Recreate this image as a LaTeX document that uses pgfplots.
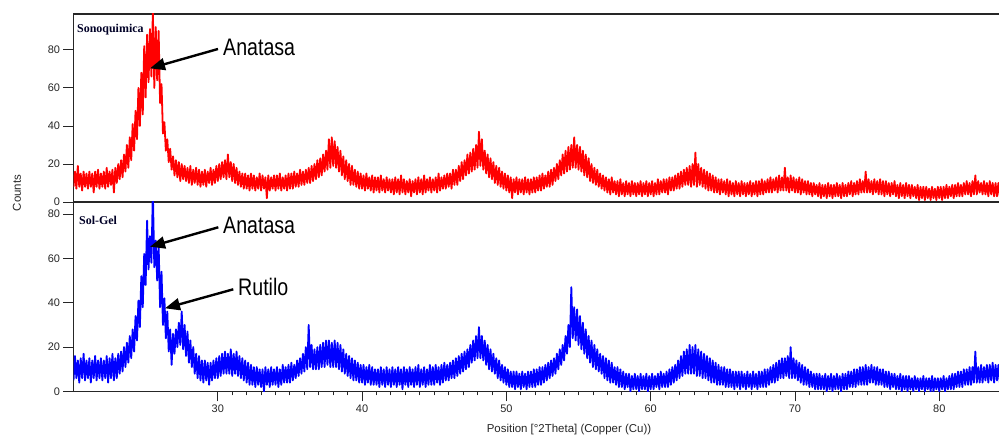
\documentclass[border=0pt]{standalone}
\usepackage{pgfplots}
\pgfplotsset{compat=1.18}
\usetikzlibrary{arrows.meta}
\usepackage{fontspec}
\setmainfont{Liberation Sans}
\newfontfamily\panelfont{Liberation Serif}

\pgfplotsset{
  xrd/.style={
    scale only axis,
    width=927.8bp,
    xmin=20, xmax=84.3,
    ymin=0,
    ytick={0,20,40,60,80},
    ytick pos=left,
    tick align=outside,
    major tick length=10bp,
    minor tick length=4bp,
    axis line style={line width=1.2bp, black!85},
    every tick/.style={line width=0.9bp, black!85},
    ticklabel style={font=\fontsize{11}{13}\selectfont, black!85},
    /pgf/number format/assume math mode=true,
    clip=true,
  },
  pattern/.style={line width=1.8bp, line join=round},
}

\begin{document}
\begin{tikzpicture}
\useasboundingbox (0bp,0bp) rectangle (999bp,437bp);

%% Sonoquimica
\begin{axis}[xrd, at={(73.5bp,235bp)}, anchor=south west, height=188bp, ymax=98.9, xtick=\empty]
\addplot[pattern, red] coordinates {
(20.0,8) (20.1,16) (20.2,7) (20.3,19) (20.4,8) (20.5,15) (20.6,6) (20.7,16) (20.8,8) (20.9,15)
(21.0,7) (21.1,16) (21.2,8) (21.3,15) (21.4,5) (21.5,16) (21.6,8) (21.7,17) (21.8,7) (21.9,15)
(22.0,8) (22.1,16) (22.2,7) (22.3,18) (22.4,8) (22.5,16) (22.6,9) (22.7,17) (22.8,5) (22.9,18)
(23.0,10) (23.1,20) (23.2,12) (23.3,22) (23.4,13) (23.5,25) (23.6,16) (23.7,30) (23.8,18) (23.9,34)
(24.0,22) (24.1,41) (24.2,27) (24.3,48) (24.4,33) (24.5,60) (24.6,40) (24.7,68) (24.8,46) (24.9,82)
(25.0,55) (25.1,88) (25.2,63) (25.3,91) (25.4,66) (25.5,100) (25.6,60) (25.7,92) (25.8,64) (25.9,90)
(26.0,52) (26.1,62) (26.2,36) (26.3,42) (26.4,27) (26.5,33) (26.6,21) (26.7,28) (26.8,17) (26.9,24)
(27.0,14) (27.1,22) (27.2,13) (27.3,21) (27.4,11) (27.5,20) (27.6,12) (27.7,19) (27.8,11) (27.9,18)
(28.0,10) (28.1,19) (28.2,9) (28.3,17) (28.4,10) (28.5,18) (28.6,9) (28.7,17) (28.8,8) (28.9,16)
(29.0,9) (29.1,17) (29.2,8) (29.3,16) (29.4,10) (29.5,18) (29.6,9) (29.7,17) (29.8,10) (29.9,19)
(30.0,11) (30.1,20) (30.2,12) (30.3,21) (30.4,13) (30.5,22) (30.6,12) (30.7,25) (30.8,13) (30.9,21)
(31.0,11) (31.1,20) (31.2,10) (31.3,18) (31.4,9) (31.5,16) (31.6,8) (31.7,15) (31.8,7) (31.9,15)
(32.0,7) (32.1,14) (32.2,6) (32.3,15) (32.4,7) (32.5,14) (32.6,6) (32.7,13) (32.8,7) (32.9,15)
(33.0,6) (33.1,14) (33.2,7) (33.3,13) (33.4,2) (33.5,14) (33.6,6) (33.7,13) (33.8,7) (33.9,14)
(34.0,6) (34.1,14) (34.2,7) (34.3,15) (34.4,6) (34.5,13) (34.6,7) (34.7,14) (34.8,6) (34.9,15)
(35.0,7) (35.1,15) (35.2,7) (35.3,16) (35.4,8) (35.5,15) (35.6,8) (35.7,17) (35.8,9) (35.9,16)
(36.0,9) (36.1,17) (36.2,10) (36.3,18) (36.4,10) (36.5,19) (36.6,11) (36.7,20) (36.8,12) (36.9,22)
(37.0,13) (37.1,23) (37.2,14) (37.3,25) (37.4,16) (37.5,27) (37.6,17) (37.7,33) (37.8,18) (37.9,34)
(38.0,19) (38.1,32) (38.2,18) (38.3,29) (38.4,16) (38.5,27) (38.6,14) (38.7,24) (38.8,12) (38.9,22)
(39.0,11) (39.1,20) (39.2,9) (39.3,19) (39.4,9) (39.5,17) (39.6,8) (39.7,16) (39.8,7) (39.9,15)
(40.0,7) (40.1,14) (40.2,6) (40.3,15) (40.4,7) (40.5,13) (40.6,6) (40.7,14) (40.8,5) (40.9,13)
(41.0,6) (41.1,13) (41.2,5) (41.3,14) (41.4,6) (41.5,12) (41.6,5) (41.7,13) (41.8,6) (41.9,12)
(42.0,5) (42.1,12) (42.2,4) (42.3,13) (42.4,5) (42.5,12) (42.6,4) (42.7,14) (42.8,5) (42.9,12)
(43.0,4) (43.1,11) (43.2,5) (43.3,12) (43.4,3) (43.5,11) (43.6,5) (43.7,12) (43.8,4) (43.9,13)
(44.0,5) (44.1,12) (44.2,4) (44.3,14) (44.4,5) (44.5,12) (44.6,6) (44.7,13) (44.8,5) (44.9,12)
(45.0,6) (45.1,13) (45.2,5) (45.3,15) (45.4,6) (45.5,13) (45.6,7) (45.7,14) (45.8,7) (45.9,15)
(46.0,8) (46.1,15) (46.2,7) (46.3,17) (46.4,9) (46.5,17) (46.6,9) (46.7,19) (46.8,11) (46.9,21)
(47.0,12) (47.1,22) (47.2,14) (47.3,25) (47.4,15) (47.5,26) (47.6,16) (47.7,28) (47.8,17) (47.9,30)
(48.0,18) (48.1,37) (48.2,19) (48.3,33) (48.4,17) (48.5,27) (48.6,15) (48.7,25) (48.8,13) (48.9,23)
(49.0,12) (49.1,21) (49.2,10) (49.3,19) (49.4,9) (49.5,18) (49.6,8) (49.7,16) (49.8,7) (49.9,15)
(50.0,6) (50.1,14) (50.2,5) (50.3,13) (50.4,2) (50.5,12) (50.6,5) (50.7,13) (50.8,4) (50.9,12)
(51.0,5) (51.1,12) (51.2,4) (51.3,13) (51.4,5) (51.5,12) (51.6,4) (51.7,12) (51.8,5) (51.9,13)
(52.0,5) (52.1,13) (52.2,6) (52.3,14) (52.4,6) (52.5,15) (52.6,7) (52.7,14) (52.8,8) (52.9,16)
(53.0,8) (53.1,17) (53.2,9) (53.3,18) (53.4,11) (53.5,20) (53.6,12) (53.7,22) (53.8,14) (53.9,25)
(54.0,15) (54.1,27) (54.2,16) (54.3,29) (54.4,17) (54.5,30) (54.6,18) (54.7,34) (54.8,18) (54.9,30)
(55.0,17) (55.1,29) (55.2,16) (55.3,27) (55.4,14) (55.5,25) (55.6,13) (55.7,23) (55.8,11) (55.9,20)
(56.0,10) (56.1,18) (56.2,9) (56.3,17) (56.4,8) (56.5,15) (56.6,7) (56.7,14) (56.8,6) (56.9,13)
(57.0,5) (57.1,12) (57.2,4) (57.3,13) (57.4,5) (57.5,11) (57.6,4) (57.7,11) (57.8,3) (57.9,12)
(58.0,4) (58.1,10) (58.2,3) (58.3,11) (58.4,4) (58.5,10) (58.6,3) (58.7,11) (58.8,4) (58.9,10)
(59.0,3) (59.1,10) (59.2,4) (59.3,11) (59.4,3) (59.5,10) (59.6,4) (59.7,11) (59.8,3) (59.9,10)
(60.0,4) (60.1,11) (60.2,3) (60.3,10) (60.4,4) (60.5,12) (60.6,4) (60.7,11) (60.8,5) (60.9,12)
(61.0,5) (61.1,12) (61.2,4) (61.3,13) (61.4,6) (61.5,13) (61.6,6) (61.7,14) (61.8,7) (61.9,15)
(62.0,7) (62.1,16) (62.2,8) (62.3,17) (62.4,9) (62.5,18) (62.6,9) (62.7,19) (62.8,8) (62.9,20)
(63.0,9) (63.1,26) (63.2,8) (63.3,20) (63.4,9) (63.5,18) (63.6,8) (63.7,17) (63.8,7) (63.9,16)
(64.0,6) (64.1,15) (64.2,6) (64.3,14) (64.4,5) (64.5,13) (64.6,5) (64.7,12) (64.8,4) (64.9,12)
(65.0,5) (65.1,11) (65.2,4) (65.3,12) (65.4,3) (65.5,11) (65.6,4) (65.7,10) (65.8,3) (65.9,11)
(66.0,4) (66.1,10) (66.2,3) (66.3,11) (66.4,4) (66.5,10) (66.6,3) (66.7,10) (66.8,4) (66.9,11)
(67.0,3) (67.1,10) (67.2,4) (67.3,11) (67.4,3) (67.5,11) (67.6,4) (67.7,12) (67.8,4) (67.9,11)
(68.0,5) (68.1,12) (68.2,5) (68.3,13) (68.4,5) (68.5,12) (68.6,6) (68.7,13) (68.8,5) (68.9,14)
(69.0,6) (69.1,13) (69.2,6) (69.3,18) (69.4,6) (69.5,13) (69.6,5) (69.7,14) (69.8,6) (69.9,13)
(70.0,5) (70.1,12) (70.2,5) (70.3,13) (70.4,4) (70.5,12) (70.6,5) (70.7,11) (70.8,4) (70.9,11)
(71.0,4) (71.1,10) (71.2,3) (71.3,10) (71.4,4) (71.5,9) (71.6,3) (71.7,10) (71.8,2) (71.9,9)
(72.0,3) (72.1,9) (72.2,2) (72.3,10) (72.4,3) (72.5,9) (72.6,2) (72.7,9) (72.8,3) (72.9,10)
(73.0,3) (73.1,9) (73.2,2) (73.3,10) (73.4,3) (73.5,9) (73.6,3) (73.7,10) (73.8,4) (73.9,11)
(74.0,3) (74.1,10) (74.2,4) (74.3,11) (74.4,4) (74.5,12) (74.6,5) (74.7,11) (74.8,5) (74.9,16)
(75.0,5) (75.1,12) (75.2,5) (75.3,11) (75.4,4) (75.5,12) (75.6,5) (75.7,11) (75.8,4) (75.9,12)
(76.0,4) (76.1,11) (76.2,3) (76.3,11) (76.4,4) (76.5,10) (76.6,3) (76.7,10) (76.8,4) (76.9,11)
(77.0,3) (77.1,9) (77.2,2) (77.3,10) (77.4,3) (77.5,9) (77.6,2) (77.7,10) (77.8,3) (77.9,9)
(78.0,2) (78.1,9) (78.2,3) (78.3,8) (78.4,2) (78.5,9) (78.6,1) (78.7,8) (78.8,2) (78.9,8)
(79.0,1) (79.1,8) (79.2,2) (79.3,7) (79.4,1) (79.5,8) (79.6,2) (79.7,7) (79.8,1) (79.9,8)
(80.0,2) (80.1,8) (80.2,1) (80.3,8) (80.4,2) (80.5,9) (80.6,2) (80.7,8) (80.8,3) (80.9,9)
(81.0,2) (81.1,9) (81.2,3) (81.3,10) (81.4,3) (81.5,9) (81.6,3) (81.7,10) (81.8,4) (81.9,11)
(82.0,4) (82.1,10) (82.2,3) (82.3,11) (82.4,4) (82.5,14) (82.6,4) (82.7,11) (82.8,5) (82.9,10)
(83.0,4) (83.1,11) (83.2,4) (83.3,10) (83.4,3) (83.5,11) (83.6,4) (83.7,10) (83.8,3) (83.9,10)
(84.0,3) (84.1,10) (84.2,3) (84.3,10)
};
\end{axis}

%% Sol-Gel
\begin{axis}[xrd, at={(73.5bp,45.5bp)}, anchor=south west, height=189.5bp, ymax=85.4,
  xtick={30,40,50,60,70,80}, minor x tick num=9, xtick pos=bottom]
\addplot[pattern, blue] coordinates {
(20.0,5) (20.1,16) (20.2,6) (20.3,14) (20.4,4) (20.5,15) (20.6,6) (20.7,17) (20.8,5) (20.9,14)
(21.0,6) (21.1,15) (21.2,4) (21.3,14) (21.4,6) (21.5,16) (21.6,5) (21.7,14) (21.8,6) (21.9,15)
(22.0,5) (22.1,14) (22.2,6) (22.3,16) (22.4,4) (22.5,15) (22.6,6) (22.7,17) (22.8,5) (22.9,15)
(23.0,6) (23.1,17) (23.2,8) (23.3,18) (23.4,9) (23.5,20) (23.6,11) (23.7,22) (23.8,13) (23.9,25)
(24.0,15) (24.1,28) (24.2,18) (24.3,34) (24.4,23) (24.5,41) (24.6,29) (24.7,52) (24.8,38) (24.9,62)
(25.0,48) (25.1,77) (25.2,55) (25.3,70) (25.4,58) (25.5,90) (25.6,56) (25.7,68) (25.8,50) (25.9,66)
(26.0,38) (26.1,54) (26.2,30) (26.3,42) (26.4,24) (26.5,36) (26.6,18) (26.7,28) (26.8,12) (26.9,26)
(27.0,17) (27.1,28) (27.2,20) (27.3,31) (27.4,21) (27.5,36) (27.6,19) (27.7,30) (27.8,16) (27.9,27)
(28.0,13) (28.1,23) (28.2,11) (28.3,20) (28.4,8) (28.5,17) (28.6,6) (28.7,16) (28.8,5) (28.9,14)
(29.0,4) (29.1,14) (29.2,5) (29.3,13) (29.4,3) (29.5,13) (29.6,5) (29.7,14) (29.8,6) (29.9,15)
(30.0,6) (30.1,16) (30.2,7) (30.3,17) (30.4,8) (30.5,18) (30.6,8) (30.7,17) (30.8,8) (30.9,19)
(31.0,7) (31.1,17) (31.2,8) (31.3,18) (31.4,7) (31.5,16) (31.6,6) (31.7,15) (31.8,5) (31.9,14)
(32.0,4) (32.1,13) (32.2,3) (32.3,12) (32.4,3) (32.5,11) (32.6,2) (32.7,11) (32.8,3) (32.9,10)
(33.0,2) (33.1,10) (33.2,0) (33.3,11) (33.4,3) (33.5,10) (33.6,2) (33.7,11) (33.8,3) (33.9,10)
(34.0,3) (34.1,11) (34.2,2) (34.3,10) (34.4,3) (34.5,12) (34.6,4) (34.7,11) (34.8,4) (34.9,12)
(35.0,4) (35.1,13) (35.2,5) (35.3,12) (35.4,6) (35.5,14) (35.6,7) (35.7,15) (35.8,8) (35.9,17)
(36.0,9) (36.1,20) (36.2,10) (36.3,30) (36.4,11) (36.5,21) (36.6,10) (36.7,19) (36.8,10) (36.9,20)
(37.0,10) (37.1,21) (37.2,11) (37.3,22) (37.4,11) (37.5,23) (37.6,12) (37.7,23) (37.8,11) (37.9,22)
(38.0,11) (38.1,23) (38.2,11) (38.3,22) (38.4,10) (38.5,21) (38.6,9) (38.7,19) (38.8,8) (38.9,17)
(39.0,7) (39.1,16) (39.2,6) (39.3,15) (39.4,5) (39.5,14) (39.6,5) (39.7,13) (39.8,4) (39.9,12)
(40.0,4) (40.1,12) (40.2,3) (40.3,11) (40.4,4) (40.5,12) (40.6,3) (40.7,11) (40.8,3) (40.9,10)
(41.0,3) (41.1,10) (41.2,2) (41.3,11) (41.4,3) (41.5,10) (41.6,2) (41.7,11) (41.8,3) (41.9,10)
(42.0,2) (42.1,11) (42.2,3) (42.3,10) (42.4,2) (42.5,11) (42.6,3) (42.7,10) (42.8,1) (42.9,11)
(43.0,3) (43.1,10) (43.2,2) (43.3,11) (43.4,3) (43.5,10) (43.6,2) (43.7,11) (43.8,3) (43.9,12)
(44.0,2) (44.1,10) (44.2,3) (44.3,11) (44.4,2) (44.5,10) (44.6,3) (44.7,12) (44.8,3) (44.9,11)
(45.0,3) (45.1,12) (45.2,4) (45.3,11) (45.4,3) (45.5,12) (45.6,4) (45.7,13) (45.8,5) (45.9,12)
(46.0,5) (46.1,13) (46.2,6) (46.3,14) (46.4,6) (46.5,15) (46.6,7) (46.7,16) (46.8,8) (46.9,17)
(47.0,9) (47.1,18) (47.2,10) (47.3,19) (47.4,11) (47.5,21) (47.6,13) (47.7,23) (47.8,14) (47.9,25)
(48.0,15) (48.1,29) (48.2,15) (48.3,25) (48.4,14) (48.5,23) (48.6,12) (48.7,21) (48.8,10) (48.9,19)
(49.0,9) (49.1,17) (49.2,8) (49.3,15) (49.4,6) (49.5,14) (49.6,5) (49.7,12) (49.8,4) (49.9,11)
(50.0,3) (50.1,10) (50.2,2) (50.3,9) (50.4,2) (50.5,9) (50.6,1) (50.7,9) (50.8,2) (50.9,8)
(51.0,1) (51.1,9) (51.2,2) (51.3,8) (51.4,1) (51.5,9) (51.6,2) (51.7,9) (51.8,2) (51.9,10)
(52.0,2) (52.1,10) (52.2,3) (52.3,11) (52.4,3) (52.5,11) (52.6,4) (52.7,12) (52.8,5) (52.9,13)
(53.0,6) (53.1,14) (53.2,7) (53.3,15) (53.4,8) (53.5,17) (53.6,10) (53.7,19) (53.8,12) (53.9,21)
(54.0,14) (54.1,25) (54.2,17) (54.3,30) (54.4,20) (54.5,47) (54.6,24) (54.7,38) (54.8,23) (54.9,37)
(55.0,21) (55.1,34) (55.2,19) (55.3,31) (55.4,17) (55.5,28) (55.6,15) (55.7,25) (55.8,13) (55.9,23)
(56.0,11) (56.1,21) (56.2,10) (56.3,19) (56.4,9) (56.5,17) (56.6,8) (56.7,16) (56.8,6) (56.9,15)
(57.0,5) (57.1,14) (57.2,4) (57.3,13) (57.4,4) (57.5,11) (57.6,3) (57.7,11) (57.8,2) (57.9,10)
(58.0,2) (58.1,9) (58.2,1) (58.3,8) (58.4,2) (58.5,8) (58.6,0) (58.7,7) (58.8,1) (58.9,8)
(59.0,1) (59.1,7) (59.2,0) (59.3,8) (59.4,1) (59.5,7) (59.6,1) (59.7,8) (59.8,0) (59.9,7)
(60.0,1) (60.1,8) (60.2,1) (60.3,7) (60.4,2) (60.5,8) (60.6,1) (60.7,9) (60.8,2) (60.9,8)
(61.0,2) (61.1,9) (61.2,2) (61.3,10) (61.4,3) (61.5,11) (61.6,4) (61.7,12) (61.8,5) (61.9,14)
(62.0,6) (62.1,16) (62.2,7) (62.3,18) (62.4,8) (62.5,19) (62.6,8) (62.7,21) (62.8,8) (62.9,20)
(63.0,8) (63.1,21) (63.2,7) (63.3,19) (63.4,7) (63.5,18) (63.6,6) (63.7,17) (63.8,6) (63.9,16)
(64.0,5) (64.1,15) (64.2,4) (64.3,14) (64.4,4) (64.5,13) (64.6,3) (64.7,12) (64.8,3) (64.9,11)
(65.0,3) (65.1,11) (65.2,2) (65.3,10) (65.4,2) (65.5,10) (65.6,2) (65.7,9) (65.8,1) (65.9,9)
(66.0,2) (66.1,9) (66.2,1) (66.3,9) (66.4,2) (66.5,8) (66.6,1) (66.7,9) (66.8,2) (66.9,8)
(67.0,1) (67.1,9) (67.2,2) (67.3,8) (67.4,1) (67.5,9) (67.6,2) (67.7,9) (67.8,2) (67.9,10)
(68.0,2) (68.1,10) (68.2,3) (68.3,11) (68.4,4) (68.5,12) (68.6,4) (68.7,13) (68.8,5) (68.9,14)
(69.0,6) (69.1,15) (69.2,6) (69.3,15) (69.4,7) (69.5,16) (69.6,6) (69.7,20) (69.8,6) (69.9,15)
(70.0,6) (70.1,14) (70.2,5) (70.3,13) (70.4,4) (70.5,12) (70.6,3) (70.7,11) (70.8,3) (70.9,10)
(71.0,2) (71.1,9) (71.2,2) (71.3,8) (71.4,1) (71.5,8) (71.6,1) (71.7,8) (71.8,1) (71.9,7)
(72.0,1) (72.1,8) (72.2,0) (72.3,7) (72.4,1) (72.5,8) (72.6,0) (72.7,7) (72.8,1) (72.9,8)
(73.0,1) (73.1,7) (73.2,0) (73.3,8) (73.4,1) (73.5,8) (73.6,1) (73.7,9) (73.8,2) (73.9,9)
(74.0,2) (74.1,10) (74.2,2) (74.3,10) (74.4,3) (74.5,11) (74.6,3) (74.7,11) (74.8,3) (74.9,12)
(75.0,3) (75.1,11) (75.2,4) (75.3,12) (75.4,4) (75.5,11) (75.6,3) (75.7,11) (75.8,3) (75.9,10)
(76.0,3) (76.1,10) (76.2,2) (76.3,9) (76.4,2) (76.5,9) (76.6,1) (76.7,8) (76.8,2) (76.9,8)
(77.0,1) (77.1,7) (77.2,1) (77.3,8) (77.4,0) (77.5,7) (77.6,1) (77.7,7) (77.8,0) (77.9,7)
(78.0,1) (78.1,6) (78.2,0) (78.3,7) (78.4,1) (78.5,6) (78.6,0) (78.7,6) (78.8,1) (78.9,7)
(79.0,0) (79.1,6) (79.2,1) (79.3,6) (79.4,0) (79.5,7) (79.6,0) (79.7,6) (79.8,1) (79.9,6)
(80.0,0) (80.1,6) (80.2,1) (80.3,7) (80.4,0) (80.5,6) (80.6,1) (80.7,7) (80.8,1) (80.9,8)
(81.0,1) (81.1,8) (81.2,2) (81.3,9) (81.4,2) (81.5,9) (81.6,2) (81.7,10) (81.8,3) (81.9,10)
(82.0,3) (82.1,11) (82.2,3) (82.3,11) (82.4,4) (82.5,18) (82.6,4) (82.7,11) (82.8,4) (82.9,12)
(83.0,4) (83.1,11) (83.2,5) (83.3,12) (83.4,4) (83.5,12) (83.6,5) (83.7,13) (83.8,4) (83.9,12)
(84.0,5) (84.1,12) (84.2,4) (84.3,12)
};
\end{axis}

%% panel names
\node[anchor=west, inner sep=0pt, font=\panelfont\bfseries\fontsize{12}{12}\selectfont, black!85!blue]
  at (77bp,407bp) {Sonoquimica};
\node[anchor=west, inner sep=0pt, font=\panelfont\bfseries\fontsize{12}{12}\selectfont, black!85!blue]
  at (79bp,217bp) {Sol-Gel};

%% phase annotations
\tikzset{phase/.style={anchor=west, inner sep=0pt, font=\fontsize{24}{24}\selectfont},
  phasearrow/.style={line width=2.4bp, -{Triangle[length=15bp,width=12bp]}}}
\node[phase] at (223bp,390bp) {\scalebox{0.82}[1]{Anatasa}};
\draw[phasearrow] (218bp,388bp) -- (150bp,368.7bp);
\node[phase] at (223bp,212bp) {\scalebox{0.82}[1]{Anatasa}};
\draw[phasearrow] (218.3bp,209.7bp) -- (150bp,190.3bp);
\node[phase] at (238bp,149.7bp) {\scalebox{0.82}[1]{Rutilo}};
\draw[phasearrow] (233.3bp,147.7bp) -- (165bp,128.7bp);

%% axis titles
\node[rotate=90, inner sep=0pt, font=\fontsize{11.5}{12}\selectfont, black!85] at (17bp,244bp) {Counts};
\node[inner sep=0pt, font=\fontsize{11.5}{12}\selectfont, black!85] at (569bp,7bp) {Position [°2Theta] (Copper (Cu))};
\end{tikzpicture}
\end{document}
